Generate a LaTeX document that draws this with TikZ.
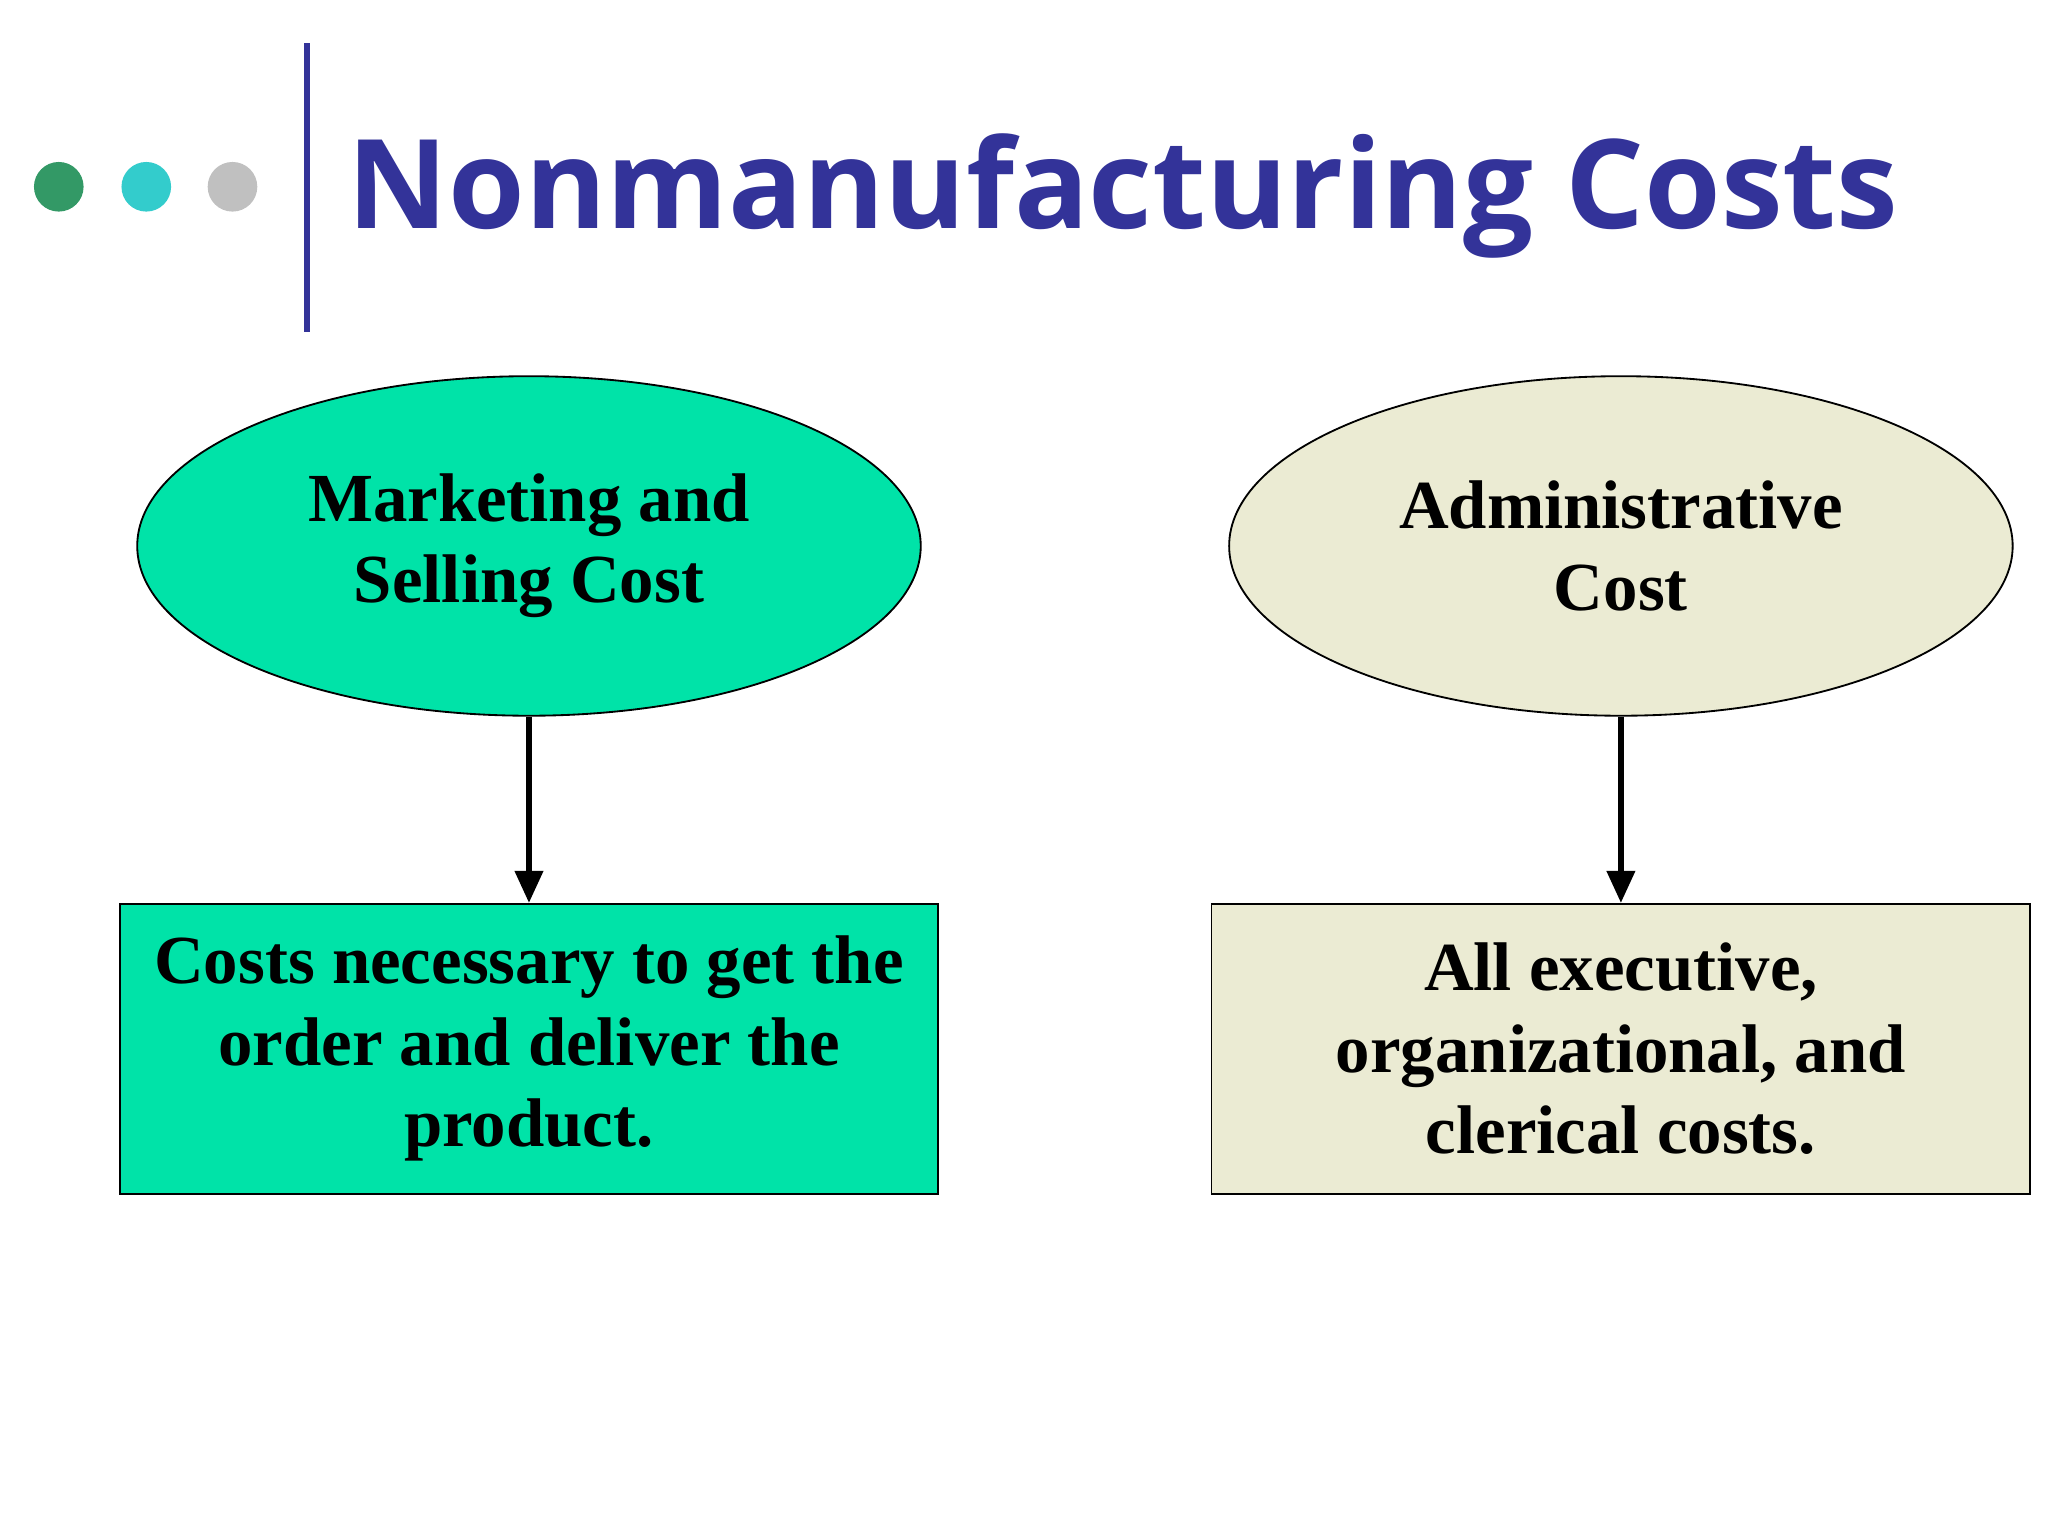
\documentclass[tikz,border=0pt]{standalone}
\usepackage{fontspec}
\setmainfont{Liberation Serif}
\newfontfamily\titlefont{Open Sans}
\usetikzlibrary{shapes.geometric,arrows.meta}
\definecolor{navy}{HTML}{333399}
\definecolor{mint}{HTML}{00E3A8}
\definecolor{beige}{HTML}{EBEBD3}
\definecolor{dotA}{HTML}{339966}
\definecolor{dotB}{HTML}{33CCCC}
\definecolor{dotC}{HTML}{C0C0C0}
\tikzset{
  ell/.style={ellipse,draw=black,line width=0.8pt,minimum width=12cm,minimum height=5.2cm,inner sep=0,align=center,font=\fontsize{30}{35.5}\selectfont\bfseries},
  descbox/.style={rectangle,draw=black,line width=0.8pt,minimum width=12.54cm,minimum height=4.44cm,inner sep=0,align=center,font=\fontsize{30}{35.5}\selectfont\bfseries},
  conn/.style={line width=2.5pt,-{Triangle[length=14pt,width=12pt]}},
  dotc/.style={circle,minimum size=0.76cm,inner sep=0}
}
\begin{document}
\begin{tikzpicture}[x=0.02cm,y=-0.02cm]
\useasboundingbox (0,0) rectangle (1568,1176);
\fill[white] (0,0) rectangle (1568,1176);
\node[dotc,fill=dotA] (d1) at (45,143) {};
\node[dotc,fill=dotB] (d2) at (112,143) {};
\node[dotc,fill=dotC] (d3) at (178,143) {};
\draw[navy,line width=2.3pt] (235,33) -- (235,254);
\node[anchor=base west,inner sep=0,text=navy,font=\titlefont\fontsize{54}{60}\selectfont\bfseries] (title) at (266,175) {Nonmanufacturing Costs};
\node[ell,fill=mint] (e1) at (405,418) {Marketing and\\Selling Cost};
\node[ell,fill=beige] (e2) at (1241,418) {Administrative\\Cost};
\node[descbox,fill=mint] (b1) at (405,803) {Costs necessary to get the\\order and deliver the\\product.};
\node[descbox,fill=beige] (b2) at (1241,803) {All executive,\\organizational, and\\clerical costs.};
\draw[conn] (e1.south) -- (b1.north);
\draw[conn] (e2.south) -- (b2.north);
\end{tikzpicture}
\end{document}
